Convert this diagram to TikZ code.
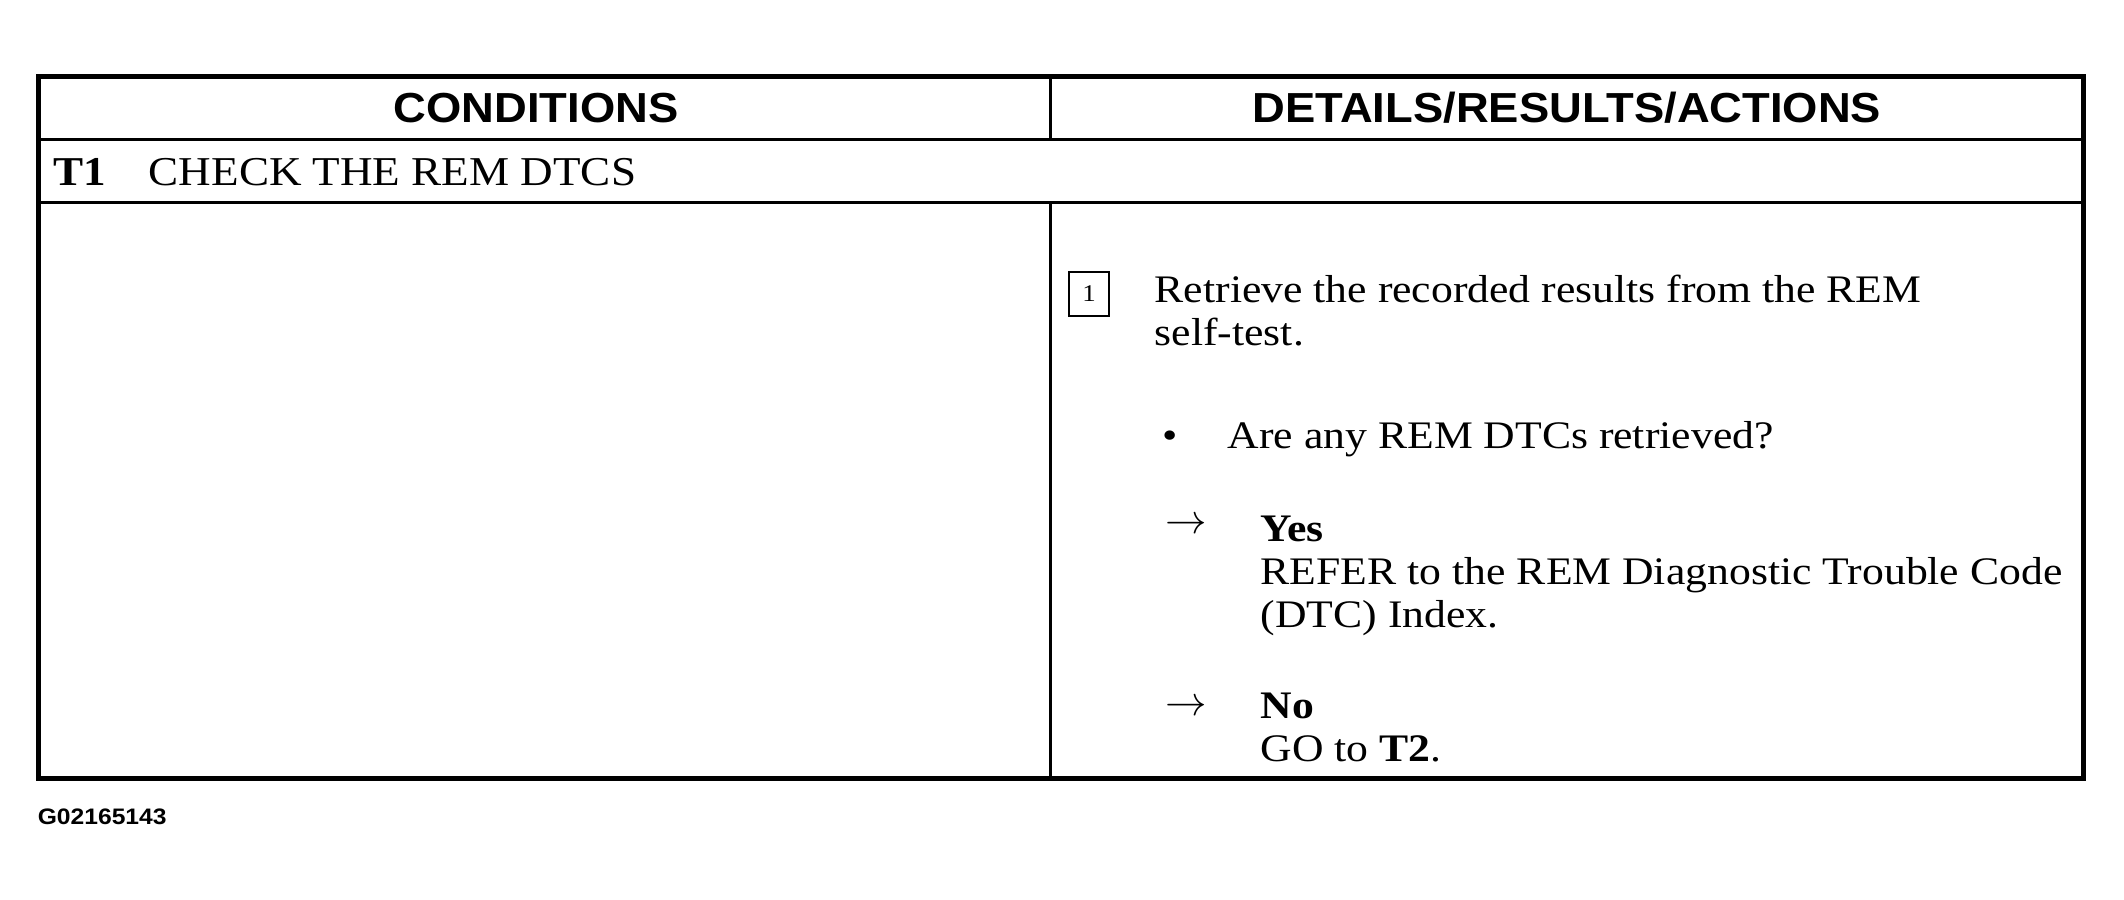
\documentclass[tikz,border=0pt]{standalone}
\usepackage{fontspec}
\usepackage{amssymb}
\usetikzlibrary{calc}
\newfontfamily\bodyfont{Liberation Serif}[FakeStretch=1.12]
\newfontfamily\rowfont{Liberation Serif}[FakeStretch=1.1]
\newfontfamily\headfont{Liberation Sans}[FakeStretch=1.08]
\newfontfamily\codefont{Liberation Sans}[FakeStretch=1.1]
\tikzset{
	every path/.style={thick},
	outer/.style={
		line width=2.5pt,
	},
	inner/.style={
		line width=1.5pt,
	},
	head/.style={
		font=\headfont\bfseries\fontsize{21}{21}\selectfont,
	},
	rowtext/.style={
		anchor=base west,
		inner sep=0pt,
		font=\rowfont\fontsize{20.5}{20.5}\selectfont,
	},
	% base anchor of a multi-line node = baseline of its last line
	body/.style={
		anchor=base west,
		inner sep=0pt,
		align=left,
		font=\bodyfont\fontsize{19.5}{21.5}\selectfont,
	},
	stepno/.style={
		draw,
		line width=0.8pt,
		minimum width=20pt,
		minimum height=22pt,
		inner sep=0pt,
		font=\bodyfont\fontsize{12}{12}\selectfont,
	},
}

\begin{document}
\begin{tikzpicture}[x=0.5pt,y=-0.5pt]
		\useasboundingbox (0,0) rectangle (2124,899);

		\draw[outer] (38,77) rectangle (2083,778);
		\draw[inner] (38,139) -- (2083,139);
		\draw[inner] (38,202) -- (2083,202);
		\draw[inner] (1050,77) -- (1050,139);
		\draw[inner] (1050,202) -- (1050,778);

		\node[head] (C) at (536,108) {CONDITIONS};
		\node[head] (D) at (1567,108) {DETAILS/RESULTS/ACTIONS};

		\node[rowtext] (T1) at (53,185) {\bfseries T1};
		\node[rowtext] (T1t) at (148,185) {CHECK THE REM DTCS};

		\node[stepno] (S1) at (1089,294) {1};
		\node[body] (R1) at (1154,345) {Retrieve the recorded results from the REM\\self-test.};

		\node[body] (B1) at (1162,448) {\textbullet};
		\node[body] (Q1) at (1227,448) {Are any REM DTCs retrieved?};

		\node[body] (A1) at (1165,533) {$\rightarrow$};
		\node[body] (Y1) at (1260,627) {\bfseries Yes\\REFER to the REM Diagnostic Trouble Code\\(DTC) Index.};

		\node[body] (A2) at (1165,715) {$\rightarrow$};
		\node[body] (N1) at (1260,761) {\bfseries No\\GO to \textbf{T2}.};

		\node[anchor=base west,inner sep=0pt,font=\codefont\bfseries\fontsize{11.2}{11.2}\selectfont] (G) at (37,824) {G02165143};
	\end{tikzpicture}
\end{document}
